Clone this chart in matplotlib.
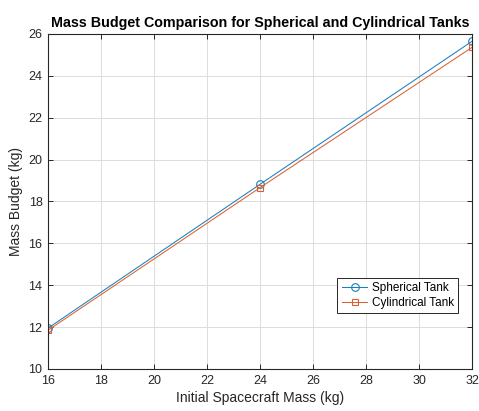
import matplotlib
matplotlib.use("Agg")
import matplotlib.pyplot as plt

plt.rcParams["font.family"] = ["Liberation Sans", "DejaVu Sans"]

# initial spacecraft mass (kg) and resulting mass budgets (kg)
initial_mass = [16, 24, 32]
spherical_budget = [11.95, 18.82, 25.65]
cylindrical_budget = [11.85, 18.66, 25.36]

BLUE = "#1a7fc0"
ORANGE = "#dc6030"
AXIS = "#262626"

fig = plt.figure(figsize=(4.79, 4.11), dpi=100)
ax = fig.add_axes([0.1002, 0.1022, 0.8852, 0.8151])

ax.plot(initial_mass, spherical_budget, "-o", color=BLUE, lw=0.75,
        ms=5.5, mfc="none", mew=0.8, label="Spherical Tank")
ax.plot(initial_mass, cylindrical_budget, "-s", color=ORANGE, lw=0.75,
        ms=5, mfc="none", mew=0.8, label="Cylindrical Tank")

ax.set_xlim(16, 32)
ax.set_ylim(10, 26)
ax.set_xticks(range(16, 33, 2))
ax.set_yticks(range(10, 27, 2))
ax.grid(True, color="#dcdcdc", lw=0.7)
ax.set_axisbelow(True)

for sp in ax.spines.values():
    sp.set_color(AXIS)
    sp.set_linewidth(0.8)
ax.tick_params(direction="in", top=True, right=True, length=3.5, width=0.7,
               colors=AXIS, labelsize=9, pad=4)

ax.set_xlabel("Initial Spacecraft Mass (kg)", fontsize=10, color=AXIS, labelpad=3)
ax.set_ylabel("Mass Budget (kg)", fontsize=10, color=AXIS, labelpad=4)
ax.set_title("Mass Budget Comparison for Spherical and Cylindrical Tanks",
             fontsize=10.3, fontweight="bold", pad=5)

leg = ax.legend(loc="lower right", bbox_to_anchor=(0.982, 0.15), fontsize=8.5,
                fancybox=False, framealpha=1, edgecolor=AXIS, borderpad=0.35,
                labelspacing=0.25, handlelength=2.2, handletextpad=0.4)
leg.get_frame().set_linewidth(0.7)

fig.savefig("out.png", dpi=100)
